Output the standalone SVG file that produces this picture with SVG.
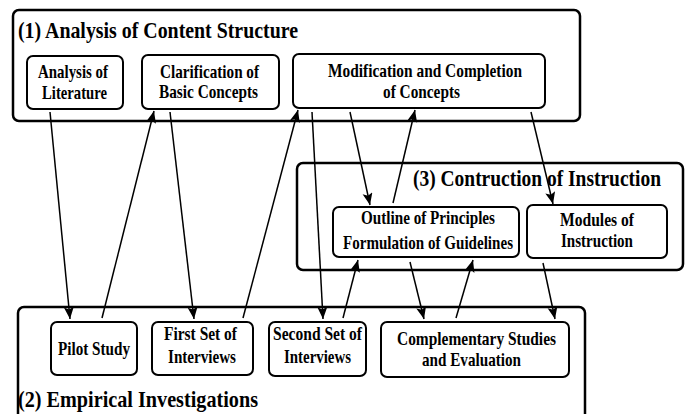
<svg xmlns="http://www.w3.org/2000/svg" width="688" height="414" viewBox="0 0 688 414">
<style>
.outer{fill:none;stroke:#000;stroke-width:2.5}
.node{fill:#fff;stroke:#000;stroke-width:2}
.t{font-family:"Liberation Serif","Times New Roman",serif;font-weight:bold;font-size:19.5px;fill:#000}
.title{font-family:"Liberation Serif","Times New Roman",serif;font-weight:bold;font-size:24px;fill:#000}
.conn line{stroke:#000;stroke-width:1.5;marker-end:url(#ah)}
</style>
<defs>
<marker id="ah" markerUnits="userSpaceOnUse" markerWidth="13" markerHeight="11" refX="12" refY="5" orient="auto">
<path d="M0,0 L12,5 L0,10 L2.5,5 z" fill="#000"/>
</marker>
</defs>
<rect x="0" y="0" width="688" height="414" fill="#fff"/>
<g id="group1">
<rect class="outer" x="13" y="10" width="567" height="111" rx="6"/>
<text class="title" x="18" y="38" textLength="280" lengthAdjust="spacingAndGlyphs">(1) Analysis of Content Structure</text>
</g>
<g id="group3">
<rect class="outer" x="297" y="163" width="386" height="107" rx="6"/>
<text class="title" x="413" y="186" font-size="25.5" textLength="248" lengthAdjust="spacingAndGlyphs">(3) Contruction of Instruction</text>
</g>
<g id="group2">
<rect class="outer" x="18" y="307" width="567" height="130" rx="6"/>
<text class="title" x="18" y="407" textLength="240" lengthAdjust="spacingAndGlyphs">(2) Empirical Investigations</text>
</g>
<g id="n-literature">
<rect class="node" x="27" y="56" width="96" height="53" rx="6"/>
<text class="t" x="38" y="78" textLength="70" lengthAdjust="spacingAndGlyphs">Analysis of</text>
<text class="t" x="42" y="99" textLength="65" lengthAdjust="spacingAndGlyphs">Literature</text>
</g>
<g id="n-clarification">
<rect class="node" x="142" y="55" width="137" height="54" rx="6"/>
<text class="t" x="160" y="78" textLength="99" lengthAdjust="spacingAndGlyphs">Clarification of</text>
<text class="t" x="159" y="98" textLength="99" lengthAdjust="spacingAndGlyphs">Basic Concepts</text>
</g>
<g id="n-modification">
<rect class="node" x="293" y="54" width="252" height="54" rx="6"/>
<text class="t" x="328" y="77" textLength="194" lengthAdjust="spacingAndGlyphs">Modification and Completion</text>
<text class="t" x="383" y="98" textLength="77" lengthAdjust="spacingAndGlyphs">of Concepts</text>
</g>
<g id="n-outline">
<rect class="node" x="333" y="207" width="186" height="50" rx="6"/>
<text class="t" x="361" y="224" textLength="134" lengthAdjust="spacingAndGlyphs">Outline of Principles</text>
<text class="t" x="343" y="249" textLength="170" lengthAdjust="spacingAndGlyphs">Formulation of Guidelines</text>
</g>
<g id="n-modules">
<rect class="node" x="527" y="205" width="140" height="53" rx="6"/>
<text class="t" x="560" y="226" textLength="74" lengthAdjust="spacingAndGlyphs">Modules of</text>
<text class="t" x="561" y="247" textLength="72" lengthAdjust="spacingAndGlyphs">Instruction</text>
</g>
<g id="n-pilot">
<rect class="node" x="51" y="322" width="86" height="53" rx="6"/>
<text class="t" x="58" y="355" textLength="72" lengthAdjust="spacingAndGlyphs">Pilot Study</text>
</g>
<g id="n-first">
<rect class="node" x="152" y="322" width="101" height="53" rx="6"/>
<text class="t" x="164" y="340" textLength="73" lengthAdjust="spacingAndGlyphs">First Set of</text>
<text class="t" x="168" y="363" textLength="68" lengthAdjust="spacingAndGlyphs">Interviews</text>
</g>
<g id="n-second">
<rect class="node" x="269" y="322" width="97" height="54" rx="6"/>
<text class="t" x="273" y="340" textLength="89" lengthAdjust="spacingAndGlyphs">Second Set of</text>
<text class="t" x="284" y="363" textLength="67" lengthAdjust="spacingAndGlyphs">Interviews</text>
</g>
<g id="n-complementary">
<rect class="node" x="381" y="322" width="188" height="55" rx="6"/>
<text class="t" x="397" y="345" textLength="159" lengthAdjust="spacingAndGlyphs">Complementary Studies</text>
<text class="t" x="422" y="366" textLength="99" lengthAdjust="spacingAndGlyphs">and Evaluation</text>
</g>
<g id="connectors" class="conn">
<line x1="50" y1="112" x2="70" y2="319"/>
<line x1="102" y1="318" x2="154" y2="111"/>
<line x1="170" y1="112" x2="194" y2="319"/>
<line x1="243" y1="318" x2="298" y2="110"/>
<line x1="312" y1="112" x2="323" y2="319"/>
<line x1="343" y1="318" x2="358" y2="260"/>
<line x1="350" y1="112" x2="370" y2="205"/>
<line x1="393" y1="203" x2="415" y2="110"/>
<line x1="410" y1="262" x2="424" y2="319"/>
<line x1="456" y1="318" x2="473" y2="260"/>
<line x1="531" y1="112" x2="553" y2="204"/>
<line x1="543" y1="263" x2="555" y2="319"/>
</g>
</svg>
